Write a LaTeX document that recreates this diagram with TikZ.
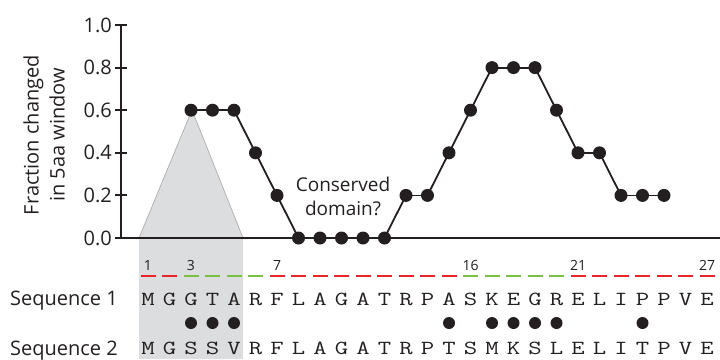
\documentclass[tikz,border=0pt]{standalone}
\usepackage{fontspec}
\setmainfont{Open Sans}
\usepackage{graphicx}
\definecolor{seqred}{HTML}{E8262A}
\definecolor{seqgreen}{HTML}{7AC143}
\definecolor{winfill}{HTML}{DCDDDE}
\definecolor{winedge}{HTML}{B4B4B4}
\definecolor{ink}{HTML}{231F20}
\begin{document}
\begin{tikzpicture}[x=1pt,y=-1pt,
  pt/.style={circle,fill=ink,inner sep=0pt,minimum size=13pt},
  sdot/.style={circle,fill=ink,inner sep=0pt,minimum size=12pt},
  res/.style={inner sep=0pt,anchor=base,font=\fontsize{20}{20}\selectfont\ttfamily,text=ink},
  lab/.style={inner sep=0pt,font=\fontsize{20}{26}\selectfont,text=ink},
  num/.style={inner sep=0pt,anchor=base,font=\fontsize{14}{14}\selectfont,text=ink},
  curve/.style={line width=1.8pt,draw=ink},
  segdash/.style={line width=2.7pt},
]
\useasboundingbox (0,0) rectangle (720,359);
% shaded window
\fill[winfill] (139,359) -- (139,238) -- (192,110) -- (243,238) -- (243,359) -- cycle;
\draw[winedge, line width=0.8pt] (139,238) -- (192,110) -- (243,238);
% axes
\coordinate (ytop) at (121,25);
\coordinate (origin) at (121,238);
\coordinate (xend) at (720,238);
\draw[ink, line width=2pt] (ytop) -- (origin);
\draw[ink, line width=2.7pt] (origin) -- (xend);
\foreach \v/\t in {0/0.0,0.2/0.2,0.4/0.4,0.6/0.6,0.8/0.8,1.0/1.0}{
  \pgfmathsetmacro{\yy}{238-\v*213}
  \draw[ink, line width=2pt] (115,\yy) -- (127,\yy);
  \node[lab,anchor=east] (tick\t) at (112,\yy) {\t};
}
\node[lab,align=center,rotate=90] (ylab) at (44,135) {Fraction changed\\in 5aa window};
% plot
\foreach \v [count=\k from 3] in {0.6,0.6,0.6,0.4,0.2,0,0,0,0,0,0.2,0.2,0.4,0.6,0.8,0.8,0.8,0.6,0.4,0.4,0.2,0.2,0.2}{
  \pgfmathsetmacro{\xx}{148+(\k-1)*21.5}
  \pgfmathsetmacro{\yy}{238-\v*213}
  \node[pt] (p\k) at (\xx,\yy) {};
}
\foreach \a [evaluate=\a as \b using int(\a+1)] in {3,...,24}{
  \draw[curve] (p\a.center) -- (p\b.center);
}
\node[lab,align=center,font=\fontsize{19}{24}\selectfont] (cons) at (343,196) {Conserved\\domain?};
% dashes
\foreach \i in {1,...,27}{
  \pgfmathsetmacro{\xx}{148+(\i-1)*21.5}
  \pgfmathtruncatemacro{\isg}{((\i>2)&&(\i<7)) || ((\i>15)&&(\i<21)) ? 1 : 0}
  \ifnum\isg=1 \def\dc{seqgreen}\else\def\dc{seqred}\fi
  \draw[segdash,\dc] (\xx-7.5,276) -- (\xx+7.5,276);
}
\foreach \i in {1,3,7,16,21,27}{
  \pgfmathsetmacro{\xx}{148+(\i-1)*21.5}
  \node[num] (n\i) at (\xx,270) {\i};
}
% sequences
\node[lab,anchor=base west] (seq1) at (10,305) {Sequence 1};
\node[lab,anchor=base west] (seq2) at (10,355) {Sequence 2};
\foreach \c [count=\i] in {M,G,G,T,A,R,F,L,A,G,A,T,R,P,A,S,K,E,G,R,E,L,I,P,P,V,E}{
  \pgfmathsetmacro{\xx}{148+(\i-1)*21.5}
  \node[res] (a\i) at (\xx,305) {\scalebox{1.3}[1]{\c}};
}
\foreach \c [count=\i] in {M,G,S,S,V,R,F,L,A,G,A,T,R,P,T,S,M,K,S,L,E,L,I,T,P,V,E}{
  \pgfmathsetmacro{\xx}{148+(\i-1)*21.5}
  \node[res] (b\i) at (\xx,354) {\scalebox{1.3}[1]{\c}};
}
\foreach \i in {3,4,5,15,17,18,19,20,24}{
  \pgfmathsetmacro{\xx}{148+(\i-1)*21.5}
  \node[sdot] (d\i) at (\xx,323) {};
}
\end{tikzpicture}
\end{document}
